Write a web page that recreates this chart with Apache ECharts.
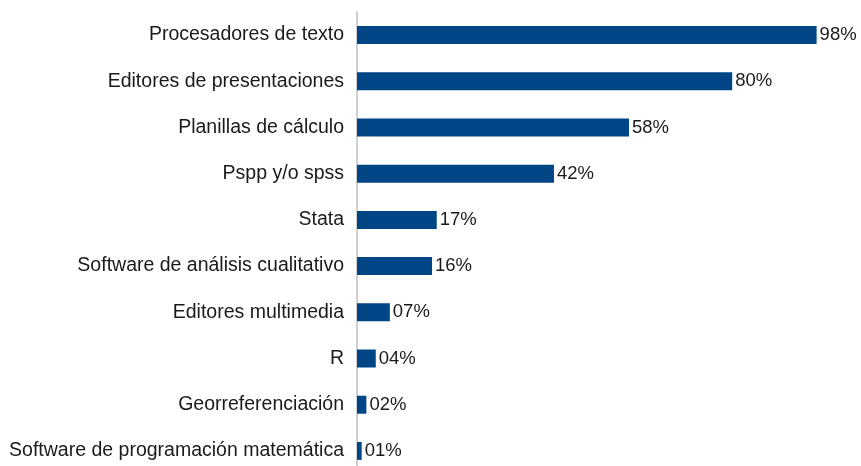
<!DOCTYPE html>
<html><head><meta charset="utf-8">
<script src="https://cdn.jsdelivr.net/npm/echarts@6/dist/echarts.min.js"></script>
<style>html,body{margin:0;padding:0;background:#fff}#c{width:861px;height:466px}</style>
</head><body><div id="c"></div>
<script>
const categories = ["Procesadores de texto","Editores de presentaciones","Planillas de cálculo","Pspp y/o spss","Stata","Software de análisis cualitativo","Editores multimedia","R","Georreferenciación","Software de programación matemática"];
const values = [98, 80, 58, 42, 17, 16, 7, 4, 2, 1];
const valueLabels = ["98%","80%","58%","42%","17%","16%","07%","04%","02%","01%"];

const chart = echarts.init(document.getElementById('c'));
chart.setOption({
  animation: false,
  grid: {left: 357, top: 12, width: 469, height: 462, containLabel: false, outerBoundsMode: 'none'},
  xAxis: {type: 'value', min: 0, max: 100, show: false},
  yAxis: {
    type: 'category', data: categories, inverse: true,
    axisLine: {show: true, lineStyle: {color: '#d0d0d0', width: 2}},
    axisTick: {show: false},
    axisLabel: {fontFamily: 'Liberation Sans', fontSize: 19.5, color: '#1a1a1a', margin: 13}
  },
  series: [{
    type: 'bar', data: values, barWidth: 18,
    itemStyle: {color: '#004586'},
    label: {show: true, position: 'right', distance: 3, fontFamily: 'Liberation Sans', fontSize: 18.5, color: '#1a1a1a',
      formatter: p => valueLabels[p.dataIndex]}
  }]
});
</script></body></html>
